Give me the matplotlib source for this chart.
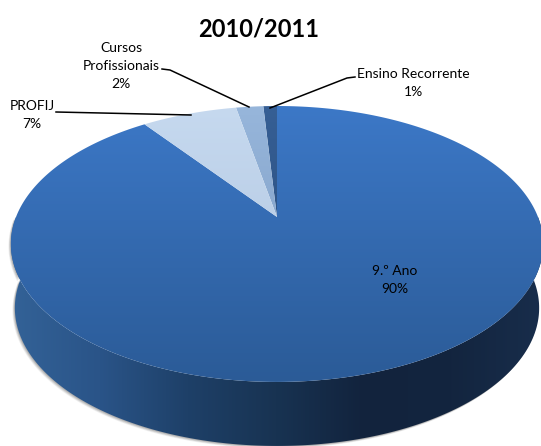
import numpy as np
import matplotlib
matplotlib.use("Agg")
import matplotlib.pyplot as plt
from matplotlib.colors import LinearSegmentedColormap
from matplotlib.patches import Polygon

plt.rcParams['font.family'] = ['Lato', 'DejaVu Sans']

# Data (from the top of the pie, going counter-clockwise)
categories = ["Ensino Recorrente", "Cursos\nProfissionais", "PROFIJ", "9.º Ano"]
values = [1, 2, 7, 90]
title = "2010/2011"

W, H = 541, 446
fig = plt.figure(figsize=(W / 100, H / 100), dpi=100)
ax = fig.add_axes([0, 0, 1, 1])
ax.set_xlim(0, W)
ax.set_ylim(H, 0)
ax.axis("off")

# perspective projection of the unit circle onto the picture
cx, cy = 277, 217
persp_a, persp_c, persp_k = 132.7, 0.1955, 261


def project(t, r=1.0):
    # t in radians measured counter-clockwise from 12 o'clock
    u = -r * np.sin(t)
    v = r * np.cos(t)
    d = 1 + persp_c * v
    return cx + persp_k * u / d, cy - persp_a * v / d


def wedge_poly(t0, t1):
    t = np.linspace(t0, t1, max(int((t1 - t0) * 60), 4))
    x, y = project(t)
    return np.column_stack([np.r_[cx, x], np.r_[cy, y]])


def gradient_fill(poly, c0, c1, horizontal=False, zorder=2, extent=(0, W, H, 0)):
    cmap = LinearSegmentedColormap.from_list("g", [c0, c1])
    ramp = np.linspace(0, 1, 256)
    ramp = ramp.reshape(1, -1) if horizontal else ramp.reshape(-1, 1)
    im = ax.imshow(ramp, cmap=cmap, extent=extent, aspect="auto", zorder=zorder,
                   interpolation="bilinear")
    patch = Polygon(poly, closed=True, transform=ax.transData, fc="none", ec="none")
    ax.add_patch(patch)
    im.set_clip_path(patch)


# outline of the rim and the lower edge of the wall
depth = 64
tt = np.linspace(np.pi * 0.5, np.pi * 1.5, 300)
rx, ry = project(tt)
low_x = cx + (rx - cx) * 0.985
low_y = ry + depth
wall = np.column_stack([np.r_[rx, low_x[::-1]], np.r_[ry, low_y[::-1]]])

# soft shadow under the wall
for off, alpha in [(4, 0.10), (3, 0.14), (2, 0.18), (1, 0.22)]:
    ax.add_patch(Polygon(wall + [-off * 0.6, off * 0.6], closed=True, fc="#606060",
                         ec="none", alpha=alpha, zorder=1))

# side wall
wall_cmap = LinearSegmentedColormap.from_list(
    "wall", ["#336297", "#2a5488", "#1e4068", "#183352", "#12233d", "#13253f", "#182d4b"])
im = ax.imshow(np.linspace(0, 1, 256).reshape(1, -1), cmap=wall_cmap,
               extent=(11, 541, H, 0), aspect="auto", zorder=2)
wall_patch = Polygon(wall, closed=True, fc="none", ec="none")
ax.add_patch(wall_patch)
im.set_clip_path(wall_patch)

# top face, one wedge per value
wedge_colors = [("#365f95", "#2f5587"), ("#97b6db", "#8aa9cf"),
                ("#c6d9ef", "#bcd0e8"), ("#3c78c7", "#2b5b97")]
edges = np.cumsum([0] + values) / sum(values) * 2 * np.pi
for i, val in enumerate(values):
    poly = wedge_poly(edges[i], edges[i + 1])
    if i == 3:
        gradient_fill(poly, wedge_colors[i][0], wedge_colors[i][1], zorder=3,
                      extent=(0, W, 382, 106))
    else:
        gradient_fill(poly, wedge_colors[i][0], wedge_colors[i][1], zorder=4,
                      extent=(0, W, 217, 106))

# leader lines
ax.plot([56, 191], [112, 115], color="black", lw=1.1, zorder=5)
ax.plot([162, 170, 249], [69, 70, 107], color="black", lw=1.1, zorder=5)
ax.plot([355, 347, 270], [77, 78, 108], color="black", lw=1.1, zorder=5)

# labels
label_pos = [(413, 83), (121, 66), (32, 115), (395, 280)]
for name, val, (x, y) in zip(categories, values, label_pos):
    ax.text(x, y, f"{name}\n{val}%", ha="center", va="center", fontsize=10,
            color="black", linespacing=1.65, zorder=6)

ax.text(259, 29, title, ha="center", va="center", fontsize=17, fontweight="bold",
        color="black", zorder=6)

fig.savefig("out.png", dpi=100)
